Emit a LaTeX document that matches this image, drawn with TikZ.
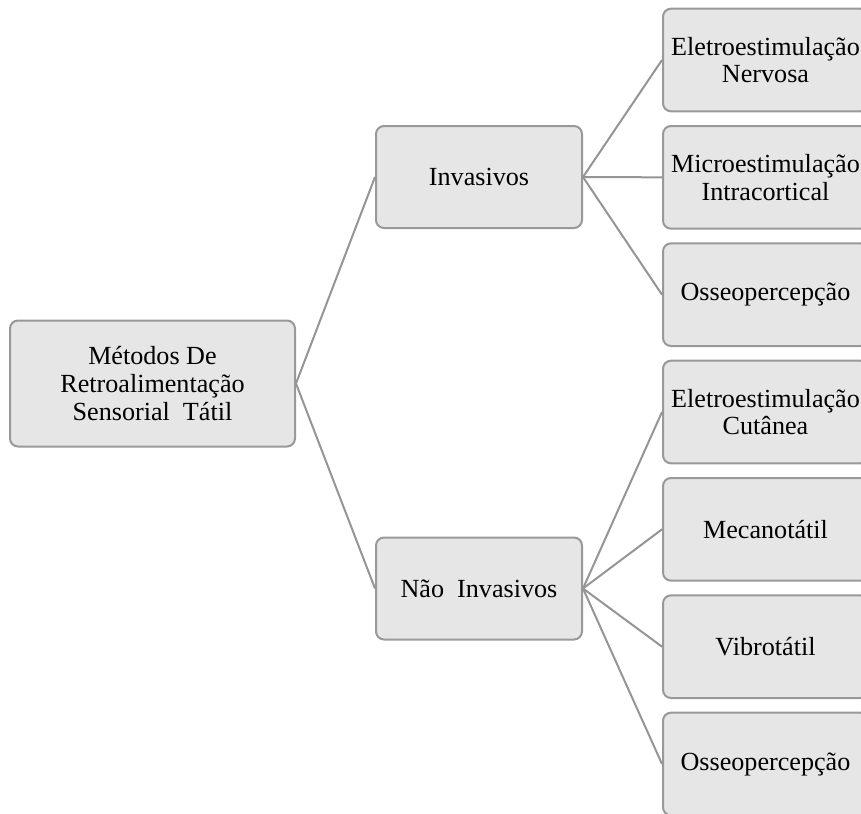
\documentclass[tikz,border=0pt]{standalone}
\usepackage{fontspec}
\setmainfont{Liberation Serif}
\usetikzlibrary{positioning}

\definecolor{caixafundo}{HTML}{E6E6E6}
\definecolor{caixaborda}{HTML}{999999}
\definecolor{ligacao}{HTML}{959595}

\begin{document}
\begin{tikzpicture}[x=0.75pt,y=-0.75pt]
\tikzstyle{caixa} = [draw=caixaborda, line width=1.5pt, fill=caixafundo, rounded corners=6pt, align=center, font=\fontsize{19.6}{20.8}\selectfont, inner sep=0pt]
\tikzstyle{raiz} = [caixa, minimum width=213.75pt, minimum height=94.5pt]
\tikzstyle{ramo} = [caixa, minimum width=154.5pt, minimum height=76.5pt]
\tikzstyle{folha} = [caixa, minimum width=153.75pt, minimum height=77pt]
\tikzstyle{liga} = [draw=ligacao, line width=1.5pt]

\clip (0,0) rectangle (861,814);

\node [raiz] (metodos) at (152.5,383.5) {Métodos De\\Retroalimentação\\Sensorial~ Tátil};

\node [ramo] (invasivos) at (479,177) {Invasivos};
\draw [liga] (metodos.east) -- (invasivos.west);

\node [ramo] (naoinv) at (479,588.5) {Não~ Invasivos};
\draw [liga] (metodos.east) -- (naoinv.west);

\node [folha] (eletronervosa) at (765.5,60) {Eletroestimulação\\Nervosa};
\draw [liga] (invasivos.east) -- (eletronervosa.west);

\node [folha] (micro) [below of=eletronervosa, node distance=88pt] {Microestimulação\\Intracortical};
\draw [liga] (invasivos.east) -- (micro.west);

\node [folha] (osseo) [below of=micro, node distance=88pt] {Osseopercepção};
\draw [liga] (invasivos.east) -- (osseo.west);

\node [folha] (eletrocutanea) [below of=osseo, node distance=88pt] {Eletroestimulação\\Cutânea};
\draw [liga] (naoinv.east) -- (eletrocutanea.west);

\node [folha] (mecano) [below of=eletrocutanea, node distance=88pt] {Mecanotátil};
\draw [liga] (naoinv.east) -- (mecano.west);

\node [folha] (vibro) [below of=mecano, node distance=88pt] {Vibrotátil};
\draw [liga] (naoinv.east) -- (vibro.west);

\node [folha] (osseonao) [below of=vibro, node distance=88pt] {Osseopercepção};
\draw [liga] (naoinv.east) -- (osseonao.west);
\end{tikzpicture}
\end{document}
